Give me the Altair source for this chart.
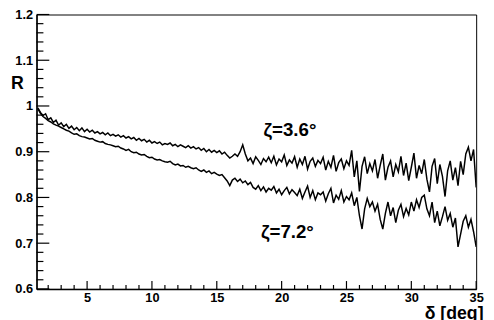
import altair as alt
import pandas as pd
import numpy as np

# sampling grid of the curves (deg)
x_start = 1.2
x_step = 0.2

# R for zeta = 3.6 deg (thousandths)
upper = [
    996, 986, 979, 983, 970, 974, 964, 969, 958, 963,
    955, 960, 951, 956, 948, 953, 946, 952, 944, 949,
    943, 947, 941, 944, 939, 942, 937, 941, 935, 938,
    934, 937, 932, 935, 930, 933, 928, 931, 925, 929,
    924, 927, 921, 925, 919, 922, 918, 921, 915, 918,
    916, 919, 913, 916, 911, 915, 912, 909, 913, 908,
    911, 906, 909, 903, 907, 900, 905, 899, 903, 898,
    902, 895, 899, 892, 886, 890, 895, 890, 900, 915,
    895, 880, 886, 874, 889, 881, 872, 885, 878, 888,
    876, 890, 871, 884, 878, 893, 870, 882, 875, 889,
    866, 884, 872, 890, 862, 879, 886, 868, 881, 874,
    888, 860, 879, 866, 892, 857, 876, 884, 863, 880,
    870, 903, 845, 880, 813, 868, 889, 852, 874, 858,
    883, 842, 870, 895, 838, 866, 880, 845, 872, 856,
    890, 848, 875, 837, 866, 897, 842, 870, 852, 883,
    840, 812, 868, 885, 830, 872, 846, 802, 858, 880,
    838, 865, 826, 879, 850, 895, 910, 880, 905, 822,
]

# R for zeta = 7.2 deg (thousandths)
lower = [
    994, 984, 977, 973, 968, 965, 961, 958, 956, 953,
    950, 947, 945, 941, 938, 939, 935, 933, 932, 930,
    928, 929, 925, 923, 921, 922, 918, 916, 915, 913,
    911, 912, 908, 906, 903, 905, 900, 898, 899, 895,
    893, 894, 890, 887, 888, 884, 882, 883, 880, 878,
    877, 879, 874, 871, 873, 869, 870, 866, 868, 865,
    863, 865, 860, 857, 860, 855, 858, 852, 855, 851,
    848, 850, 843, 836, 826, 838, 842, 835, 840, 832,
    836, 828, 833, 822, 818, 826, 815, 823, 812, 820,
    816, 824, 810, 818, 806, 815, 822, 808, 817, 811,
    804, 818, 798, 812, 825, 800, 815, 795, 810, 806,
    812, 792, 808, 820, 788, 805, 796, 815, 790, 802,
    795, 810, 782, 800, 760, 731, 775, 798, 780, 790,
    770, 785, 752, 731, 765, 790, 760, 778, 745, 772,
    785, 758, 776, 762, 790, 770, 795, 778, 800, 805,
    775, 760, 790, 745, 770, 738, 758, 780, 750, 765,
    735, 755, 692, 720, 748, 760, 735, 752, 725, 692,
]

labels = ["ζ=3.6°", "ζ=7.2°"]
label_x = [18.6, 18.4]
label_y = [0.948, 0.725]

x_ticks = [5, 10, 15, 20, 25, 30, 35]
x_minor = [2, 3, 4, 6, 7, 8, 9, 11, 12, 13, 14, 16, 17, 18, 19, 21, 22, 23, 24,
           26, 27, 28, 29, 31, 32, 33, 34]
y_ticks = [0.6, 0.7, 0.8, 0.9, 1.0, 1.1, 1.2]
y_minor = [0.62, 0.64, 0.66, 0.68, 0.72, 0.74, 0.76, 0.78, 0.82, 0.84, 0.86, 0.88,
           0.92, 0.94, 0.96, 0.98, 1.02, 1.04, 1.06, 1.08, 1.12, 1.14, 1.16, 1.18]

X_MIN, X_MAX = 1.1, 35.0
Y_MIN, Y_MAX = 0.6, 1.2
FONT = "Liberation Sans"

n = len(upper)
xs = np.round(x_start + x_step * np.arange(n), 2)
df = pd.concat([
    pd.DataFrame({"d": xs, "R": np.array(upper) / 1000.0, "s": "3.6"}),
    pd.DataFrame({"d": xs, "R": np.array(lower) / 1000.0, "s": "7.2"}),
])

xscale = alt.Scale(domain=[X_MIN, X_MAX], nice=False, zero=False)
yscale = alt.Scale(domain=[Y_MIN, Y_MAX], nice=False, zero=False)

xaxis = alt.Axis(values=x_ticks, ticks=False, grid=False, domainColor="black",
                 domainWidth=1.5, labelFont=FONT, labelFontWeight="bold",
                 labelFontSize=13, labelColor="black", labelPadding=3,
                 labelFlush=False, labelOverlap=False,
                 title="δ [deg]", titleFont=FONT, titleFontWeight="bold",
                 titleFontSize=18, titleColor="black", titleAlign="right",
                 titleAnchor="start", titleX=454, titleY=30,
                 titleBaseline="alphabetic")
yaxis = alt.Axis(values=y_ticks, ticks=False, grid=False, domainColor="black",
                 domainWidth=1.5, labelFont=FONT, labelFontWeight="bold",
                 labelFontSize=13, labelColor="black", labelPadding=4,
                 labelFlush=False, labelOverlap=False,
                 labelExpr="format(datum.value, '~g')",
                 title="R", titleFont=FONT, titleFontWeight="bold",
                 titleFontSize=18, titleColor="black", titleAngle=0,
                 titleAlign="center", titleBaseline="middle",
                 titleX=-20, titleY=70)

lines = alt.Chart(df).mark_line(color="black", strokeWidth=1.5, clip=True).encode(
    x=alt.X("d:Q", scale=xscale, axis=xaxis),
    y=alt.Y("R:Q", scale=yscale, axis=yaxis),
    detail="s:N",
)

lab_df = pd.DataFrame({"t": labels, "x": label_x, "y": label_y})
texts = alt.Chart(lab_df).mark_text(align="left", baseline="middle", font=FONT,
                                    fontWeight="bold", fontSize=19, color="black").encode(
    x=alt.X("x:Q", scale=xscale), y=alt.Y("y:Q", scale=yscale), text="t:N")

def xtick_layer(vals, length):
    return alt.Chart(pd.DataFrame({"v": vals})).mark_rule(
        color="black", strokeWidth=1.2, y2Offset=-length).encode(
        x=alt.X("v:Q", scale=xscale), y=alt.datum(Y_MIN), y2=alt.datum(Y_MIN))

def ytick_layer(vals, length):
    return alt.Chart(pd.DataFrame({"v": vals})).mark_rule(
        color="black", strokeWidth=1.2, x2Offset=length).encode(
        y=alt.Y("v:Q", scale=yscale), x=alt.datum(X_MIN), x2=alt.datum(X_MIN))

chart = alt.layer(
    xtick_layer(x_ticks, 8), xtick_layer(x_minor, 4),
    ytick_layer(y_ticks, 13), ytick_layer(y_minor, 7),
    lines, texts,
).properties(
    width=447, height=279,
    autosize=alt.AutoSizeParams(type="none"),
    padding={"left": 29, "top": 4, "right": 10, "bottom": 30},
).configure_view(stroke="black", strokeWidth=1)

chart.save("out.html", embed_options={"renderer": "svg", "actions": False})
